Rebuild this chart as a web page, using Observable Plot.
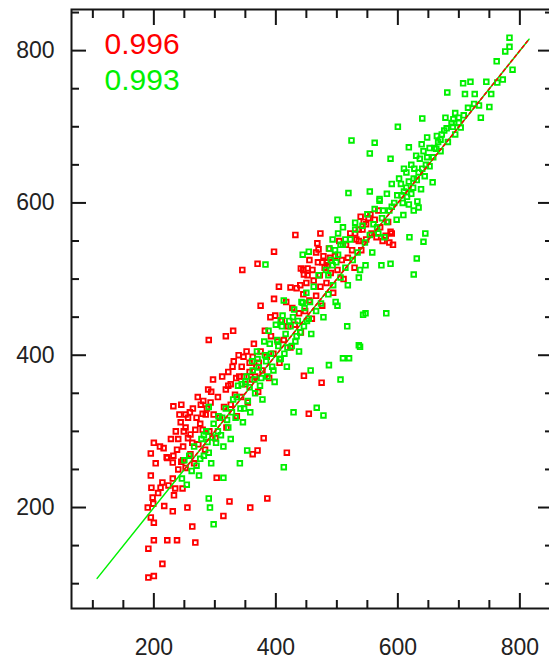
<!DOCTYPE html>
<html><head><meta charset="utf-8">
<script src="https://cdn.jsdelivr.net/npm/d3@7"></script>
<script src="https://cdn.jsdelivr.net/npm/@observablehq/plot@0.6"></script>
<style>html,body{margin:0;padding:0;overflow:hidden;background:#fff}</style>
</head><body><div id="chart"></div>
<script>
// ---- data ----
const redPoints = [
  [191,108],[200,110],[214,126],
  [191,146],[200,157],[222,157],[238,157],[268,154],
  [263,175],[200,180],[195,187],[190,200],[231,195],[255,200],
  [198,213],[211,226],[233,216],[247,225],[195,242],[231,238],
  [200,285],[195,271],[216,278],[222,265],
  [232,333],[245,335],[252,322],[280,323],
  [290,420],[330,432],[318,425],
  [303,239],[324,208],[314,189],[386,212],[358,200],
  [380,291],[370,275],[362,270],[418,272],
  [375,465],[391,450],[446,373],[475,364],[454,323],
  [432,558],[473,560],[468,547],[470,539],[397,536],[345,512],[370,520],[441,514],[452,514],[446,506],[476,522],[484,522],
  [405,490],[424,489],[397,474],
  [539,582],[571,568],[580,557],[592,545],[575,550],[588,562],[565,555],
  [196,226],[199,205],[203,258],[207,219],[210,280],[214,233],[217,202],[221,266],[224,229],[228,290],
  [231,259],[235,225],[238,276],[242,322],[245,260],[249,300],[252,252],[256,291],[259,325],[263,285],
  [266,258],[270,318],[273,283],[277,335],[280,302],[284,276],[287,330],[291,300],[294,352],[298,322],
  [301,291],[305,345],[308,318],[312,372],[315,332],[319,305],[322,360],[326,335],[329,385],[333,348],
  [336,320],[340,372],[343,345],[347,398],[350,362],[354,338],[357,390],[361,368],[364,415],[368,385],
  [371,352],[375,405],[378,380],[382,432],[385,398],[389,370],[392,425],[396,402],[399,452],[403,418],
  [406,390],[410,445],[413,420],[417,470],[420,438],[424,410],[427,462],[431,440],[434,488],[438,455],
  [441,430],[445,480],[448,458],[452,505],[455,472],[459,448],[462,498],[466,478],[469,522],[473,490],
  [476,465],[480,515],[483,495],[487,540],[490,508],[494,482],[497,530],[501,512],[504,550],[508,525],
  [511,500],[515,545],[518,528],[522,560],[525,538],[529,515],[532,552],[536,565],[540,538],[544,575],
  [548,552],[552,580],[557,560],
  [236,300],[240,290],[244,312],[248,280],[252,305],[256,318],[260,296],[264,330],[268,302],[272,345],
  [276,310],[281,340],[285,322],[289,355],[293,338],[297,368],[260,270],[248,262],[240,250],[232,268],
  [318,355],[322,378],[326,362],[331,392],[335,370],[339,400],[344,385],[348,372],[352,405],[357,378],
  [362,398],[366,372],[372,390],
  [440,492],[445,512],[450,495],[455,525],[460,512],[466,535],[472,505],[478,530],[484,518],[489,528],
  [530,560],[536,550],[542,565],[548,572],[555,585],[562,578],[568,590],[584,575],[590,560],[586,548]
];
const greenPoints = [
  [290,332],[290,212],[292,200],[298,178],[314,239],[353,275],[341,258],[413,253],[429,325],[467,331],
  [478,321],[457,380],[506,368],[487,387],[510,396],[520,396],[536,413],[517,438],[547,455],[538,411],
  [543,453],[581,455],[501,465],[536,502],[547,518],[573,518],[588,520],[626,506],[631,527],[642,549],
  [645,560],[619,555],[634,594],[626,590],[501,578],[530,574],[519,613],[554,615],[570,603],[609,584],
  [600,700],[524,682],[562,679],[554,665],[588,658],[618,673],[639,677],[648,686],[640,711],[670,683],
  [663,671],[678,712],[691,710],[703,699],[736,712],[733,728],[750,726],[681,745],[710,743],[726,743],
  [753,743],[707,757],[719,759],[745,759],[763,758],[772,762],[788,775],[762,786],[776,799],[783,805],
  [783,817],[657,627],[383,519],[444,532],[454,536],[413,472],[444,469],[408,446],
  [246,238],[250,262],[254,230],[258,268],[262,248],[266,280],[270,255],[274,242],[278,290],[282,268],
  [286,300],[290,272],[294,258],[298,310],[302,285],[306,320],[310,295],[314,280],[318,330],[322,305],
  [326,290],[330,342],[334,318],[338,360],[342,330],[346,312],[350,365],[354,340],[358,325],[362,380],
  [366,350],[370,395],[374,360],[378,342],[382,400],[386,372],[390,415],[394,385],[398,365],[402,420],
  [406,395],[410,438],[414,402],[418,385],[422,445],[426,412],[430,460],[434,425],[438,405],[442,470],
  [446,438],[450,482],[454,448],[458,428],[462,490],[466,458],[470,505],[474,468],[478,450],[482,512],
  [486,480],[490,525],[494,492],[498,470],[502,532],[506,502],[510,545],[514,515],[518,492],[522,552],
  [526,525],[530,565],[534,535],[538,512],[542,570],[546,548],[550,585],[554,558],[558,535],[562,592],
  [566,568],[570,605],[574,580],[578,555],[582,612],[586,590],[590,625],[594,600],[598,578],[602,632],
  [606,610],[610,645],[614,620],[618,598],[622,650],[626,632],[630,662],[634,640],[638,618],[642,668],
  [646,650],[652,672],[658,660],[664,688],[670,668],[676,695],[682,680],[688,705],[694,690],[700,712],
  [352,372],[357,358],[361,392],[365,368],[369,405],[372,384],[376,370],[381,418],[384,392],[388,432],
  [392,402],[396,380],[400,440],[404,412],[408,395],[411,452],[416,428],[419,410],[424,438],[428,450],
  [432,418],[436,445],[440,430],[447,462],[451,445],[456,470],[336,345],[344,362],[348,330],[328,325],
  [320,315],[312,318],[305,300],[296,292],[288,286],[282,295],[276,264],
  [488,540],[493,552],[497,538],[502,560],[506,545],[510,568],[514,552],[499,522],[493,518],[486,505],
  [605,625],[610,615],[614,640],[618,628],[622,612],[627,645],[631,630],[636,658],[640,645],[644,635],
  [648,660],[652,648],[608,600],[615,608],[625,620],[632,602],[599,610],[590,595],[582,575],[576,590],
  [568,560],[560,572],
  [660,672],[666,680],[672,690],[680,698],[690,700],[694,718],[700,705],[708,715],[715,725],[725,730]
];
const greenFit = [[107,107],[815,815]];
const redFit = [[250,250],[815,815]];
const majorTicks = [200,400,600,800];
const minorTicksX = [100,150,250,300,350,450,500,550,650,700,750,850];
const minorTicksY = [100,150,250,300,350,450,500,550,650,700,750,850];
const corrLabels = ["0.996","0.993"];
const RED = "#ff0000", GREEN = "#00f000", INK = "#151515";

const inkTicks = (axis, anchor, ticks, size) =>
  axis(ticks, {anchor, tickSize: -size, tickFormat: () => "", stroke: INK, strokeWidth: 2, label: null});

const chart = Plot.plot({
  width: 553, height: 662,
  marginLeft: 71, marginRight: 1, marginTop: 9, marginBottom: 54,
  x: {domain: [65, 853.5]},
  y: {domain: [67.4, 854]},
  style: {fontFamily: "'Liberation Sans', Arial, sans-serif", maxWidth: "none", background: "#fff"},
  marks: [
    Plot.dot(redPoints, {x: d => d[0], y: d => d[1], symbol: "square", r: 2.6, stroke: RED, strokeWidth: 1.9, fill: "none"}),
    Plot.dot(greenPoints, {x: d => d[0], y: d => d[1], symbol: "square", r: 2.6, stroke: GREEN, strokeWidth: 1.9, fill: "none"}),
    Plot.line(greenFit, {x: d => d[0], y: d => d[1], stroke: GREEN, strokeWidth: 1.5}),
    Plot.line(redFit, {x: d => d[0], y: d => d[1], stroke: RED, strokeWidth: 1.5, strokeDasharray: "3,3"}),
    Plot.frame({stroke: INK, strokeWidth: 2}),
    inkTicks(Plot.axisY, "left", majorTicks, 15),
    inkTicks(Plot.axisY, "left", minorTicksY, 8),
    inkTicks(Plot.axisY, "right", majorTicks, 15),
    inkTicks(Plot.axisY, "right", minorTicksY, 8),
    inkTicks(Plot.axisX, "bottom", majorTicks, 15),
    inkTicks(Plot.axisX, "bottom", minorTicksX, 8),
    inkTicks(Plot.axisX, "top", majorTicks, 15),
    inkTicks(Plot.axisX, "top", minorTicksX, 8),
    Plot.axisY(majorTicks, {anchor: "left", tickSize: 0, tickPadding: 17, fontSize: 23, fill: "#222", label: null}),
    Plot.axisX(majorTicks, {anchor: "bottom", tickSize: 0, tickPadding: 30, fontSize: 23, fill: "#222", label: null}),
    Plot.text([corrLabels[0]], {frameAnchor: "top-left", dx: 33, dy: 23, text: d => d, textAnchor: "start", lineAnchor: "top", fontSize: 30, fill: RED}),
    Plot.text([corrLabels[1]], {frameAnchor: "top-left", dx: 33, dy: 59, text: d => d, textAnchor: "start", lineAnchor: "top", fontSize: 30, fill: GREEN})
  ]
});
document.getElementById("chart").appendChild(chart);
</script>
</body></html>
